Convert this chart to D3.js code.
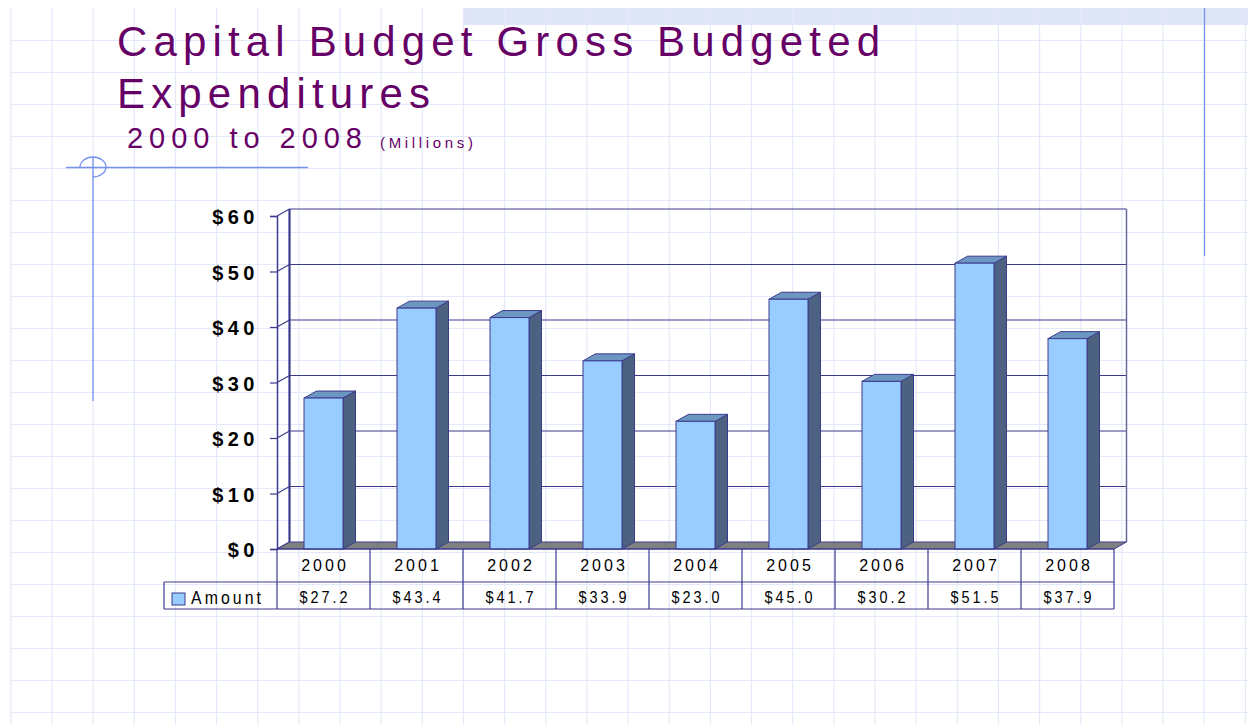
<!DOCTYPE html>
<html>
<head>
<meta charset="utf-8">
<script src="https://cdn.jsdelivr.net/npm/d3@7"></script>
<style>
  body { margin: 0; background: #fff; }
  svg { display: block; font-family: "Liberation Sans", Arial, sans-serif; }
</style>
</head>
<body>
<svg width="1248" height="725"></svg>
<script>
// chart data
const years = ['2000', '2001', '2002', '2003', '2004', '2005', '2006', '2007', '2008'];
const amounts = [27.2, 43.4, 41.7, 33.9, 23.0, 45.0, 30.2, 51.5, 37.9];
const yTicks = [0, 10, 20, 30, 40, 50, 60];
const seriesName = 'Amount';

const svg = d3.select('svg');
const W = 1248, H = 725;
const navy = '#3b3b8e';

// --- slide background: light graph paper
const bg = svg.append('g');
bg.append('rect').attr('x', 463).attr('y', 8).attr('width', W - 463).attr('height', 17)
  .attr('fill', '#dfe6f8');
for (let x = 52 - 41.15; x < W; x += 41.15) {
  bg.append('line').attr('x1', x).attr('x2', x).attr('y1', 8).attr('y2', H)
    .attr('stroke', '#e4e9f9').attr('stroke-width', 1.2);
}
for (let y = 40.5; y < H; y += 32) {
  bg.append('line').attr('x1', 11).attr('x2', W).attr('y1', y).attr('y2', y)
    .attr('stroke', '#e4e9f9').attr('stroke-width', 1.2);
}

// decorative lines
const deco = '#7592ee';
bg.append('line').attr('x1', 1204.5).attr('x2', 1204.5).attr('y1', 8).attr('y2', 256)
  .attr('stroke', deco).attr('stroke-width', 1.3);
bg.append('line').attr('x1', 66).attr('x2', 308).attr('y1', 167.5).attr('y2', 167.5)
  .attr('stroke', deco).attr('stroke-width', 1.3);
bg.append('line').attr('x1', 93).attr('x2', 93).attr('y1', 157).attr('y2', 401)
  .attr('stroke', deco).attr('stroke-width', 1.3);
bg.append('path')
  .attr('d', 'M80,167 A13,10 0 0 1 106,167 A13,10 0 0 1 93,177')
  .attr('fill', 'none').attr('stroke', deco).attr('stroke-width', 1.3);

// --- titles
const purple = '#660066';
svg.append('text').attr('x', 117).attr('y', 56).attr('fill', purple)
  .attr('font-size', 42).attr('textLength', 763).attr('lengthAdjust', 'spacing')
  .text('Capital Budget Gross Budgeted');
svg.append('text').attr('x', 117).attr('y', 108).attr('fill', purple)
  .attr('font-size', 42).attr('textLength', 313).attr('lengthAdjust', 'spacing')
  .text('Expenditures');
svg.append('text').attr('x', 127).attr('y', 148).attr('fill', purple)
  .attr('font-size', 29).attr('textLength', 235).attr('lengthAdjust', 'spacing')
  .text('2000 to 2008');
svg.append('text').attr('x', 380).attr('y', 148).attr('fill', purple)
  .attr('font-size', 15).attr('textLength', 93).attr('lengthAdjust', 'spacing')
  .text('(Millions)');

// --- 3D column chart
const dx = 12.5, dy = -7;          // depth offset
const x0 = 277, x1 = 1114;
const x = d3.scaleBand().domain(years).range([x0, x1]);
const y = d3.scaleLinear().domain([0, 60]).range([549, 216]);

const chart = svg.append('g');

// back wall gridlines
chart.selectAll('.grid').data(yTicks.filter(d => d > 0)).enter().append('line')
  .attr('x1', x0 + dx).attr('x2', x1 + dx)
  .attr('y1', d => y(d) + dy).attr('y2', d => y(d) + dy)
  .attr('stroke', navy).attr('stroke-width', 1.2);
// left wall diagonals
chart.selectAll('.diag').data(yTicks).enter().append('line')
  .attr('x1', x0).attr('x2', x0 + dx)
  .attr('y1', d => y(d)).attr('y2', d => y(d) + dy)
  .attr('stroke', navy).attr('stroke-width', 1.2);
// back wall right edge
chart.append('line').attr('x1', x1 + dx).attr('x2', x1 + dx)
  .attr('y1', y(60) + dy).attr('y2', y(0) + dy)
  .attr('stroke', '#6a6a9e').attr('stroke-width', 1.5);
// left wall back edge
chart.append('line').attr('x1', x0 + dx).attr('x2', x0 + dx)
  .attr('y1', y(60) + dy).attr('y2', y(0) + dy)
  .attr('stroke', navy).attr('stroke-width', 2.2);

// floor
chart.append('path')
  .attr('d', `M${x0},${y(0)} L${x0 + dx},${y(0) + dy} L${x1 + dx},${y(0) + dy} L${x1},${y(0)} Z`)
  .attr('fill', '#808080').attr('stroke', navy).attr('stroke-width', 1);

// front axis line + ticks
const yAxis = d3.axisLeft(y).tickValues(yTicks).tickSize(7).tickPadding(11)
  .tickFormat(d => '$' + d);
const axG = chart.append('g').attr('transform', `translate(${x0},0)`).call(yAxis);
axG.select('.domain').attr('stroke', navy).attr('stroke-width', 1.5);
axG.selectAll('.tick line').attr('stroke', navy).attr('stroke-width', 1.2);
axG.selectAll('.tick text')
  .attr('fill', '#000').attr('font-size', 20).attr('font-weight', 'bold')
  .attr('letter-spacing', 4.5).attr('font-family', '"Liberation Sans", Arial, sans-serif')
  .attr('dy', '0.38em');

// bars
const barW = 39;
const bars = chart.selectAll('.bar').data(years.map((yr, i) => ({ yr, v: amounts[i] })))
  .enter().append('g');
bars.append('path') // side
  .attr('d', d => {
    const bx = x(d.yr) + (x.bandwidth() - barW) / 2 + barW;
    return `M${bx},${y(d.v)} L${bx + dx},${y(d.v) + dy} L${bx + dx},${y(0) + dy} L${bx},${y(0)} Z`;
  })
  .attr('fill', '#4d6180').attr('stroke', navy).attr('stroke-width', 1);
bars.append('path') // top
  .attr('d', d => {
    const bx = x(d.yr) + (x.bandwidth() - barW) / 2;
    return `M${bx},${y(d.v)} L${bx + dx},${y(d.v) + dy} L${bx + barW + dx},${y(d.v) + dy} L${bx + barW},${y(d.v)} Z`;
  })
  .attr('fill', '#6d96c1').attr('stroke', navy).attr('stroke-width', 1);
bars.append('rect') // front
  .attr('x', d => x(d.yr) + (x.bandwidth() - barW) / 2)
  .attr('y', d => y(d.v))
  .attr('width', barW)
  .attr('height', d => y(0) - y(d.v))
  .attr('fill', '#99ccff').attr('stroke', navy).attr('stroke-width', 1);

// --- data table
const r0 = y(0), r1 = 582, r2 = 609;
const legX = 164;
const tbl = svg.append('g');
tbl.append('line').attr('x1', x0).attr('x2', x1).attr('y1', r0).attr('y2', r0)
  .attr('stroke', navy).attr('stroke-width', 1.2);
tbl.append('line').attr('x1', legX).attr('x2', x1).attr('y1', r1).attr('y2', r1)
  .attr('stroke', navy).attr('stroke-width', 1.2);
tbl.append('line').attr('x1', legX).attr('x2', x1).attr('y1', r2).attr('y2', r2)
  .attr('stroke', navy).attr('stroke-width', 1.2);
tbl.append('line').attr('x1', legX).attr('x2', legX).attr('y1', r1).attr('y2', r2)
  .attr('stroke', navy).attr('stroke-width', 1.2);
tbl.selectAll('.vl').data(years.concat(['end'])).enter().append('line')
  .attr('x1', (d, i) => i < years.length ? x(d) : x1)
  .attr('x2', (d, i) => i < years.length ? x(d) : x1)
  .attr('y1', r0).attr('y2', r2)
  .attr('stroke', navy).attr('stroke-width', 1.2);

tbl.selectAll('.yr').data(years).enter().append('text')
  .attr('x', d => x(d) + x.bandwidth() / 2 + 1.5).attr('y', 571)
  .attr('text-anchor', 'middle').attr('font-size', 16).attr('letter-spacing', 3)
  .attr('fill', '#000').text(d => d);
// narrow-looking value labels: horizontally condensed text
tbl.selectAll('.val').data(amounts).enter().append('text')
  .attr('transform', (d, i) => `translate(${x(years[i]) + x.bandwidth() / 2 + 1.5},603) scale(0.85,1)`)
  .attr('text-anchor', 'middle').attr('font-size', 17).attr('letter-spacing', 3.5)
  .attr('fill', '#000').text(d => '$' + d.toFixed(1));

// legend
tbl.append('rect').attr('x', 172).attr('y', 593).attr('width', 13).attr('height', 12)
  .attr('fill', '#99ccff').attr('stroke', navy).attr('stroke-width', 1);
tbl.append('text').attr('transform', 'translate(191,604) scale(0.88,1)')
  .attr('font-size', 18).attr('letter-spacing', 3.5).attr('fill', '#000')
  .text(seriesName);
</script>
</body>
</html>
